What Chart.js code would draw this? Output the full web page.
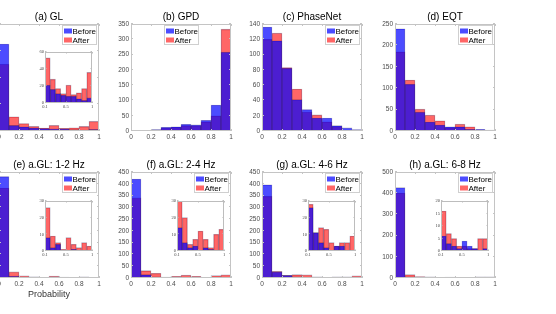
<!DOCTYPE html>
<html>
<head>
<meta charset="utf-8">
<script src="https://cdn.jsdelivr.net/npm/chart.js@4.4.1/dist/chart.umd.min.js"></script>
<style>
  html, body { margin: 0; padding: 0; background: #fff; }
  body { width: 556px; height: 314px; position: relative; overflow: hidden; }
  canvas { position: absolute; }
</style>
</head>
<body>
<script>
'use strict';

// histogram bins are 0.1 wide, bars sit on the bin centres
const binCenters = [0.05, 0.15, 0.25, 0.35, 0.45, 0.55, 0.65, 0.75, 0.85, 0.95];
const seriesLabels = ['Before', 'After'];
const xTicks = [0, 0.2, 0.4, 0.6, 0.8, 1];
const insetXTicks = [0.1, 0.5, 1];

const glBefore = [325, 21, 16, 11, 9, 8, 8, 5, 3, 6];
const glAfter = [250, 53, 28, 17, 11, 21, 10, 12, 17, 36];
const gpdBefore = [0, 2, 5, 12, 14, 22, 20, 35, 85, 258];
const gpdAfter = [0, 1, 4, 10, 12, 18, 18, 30, 50, 333];
const pnBefore = [136, 118, 82, 41, 28, 17, 17, 7, 4, 2];
const pnAfter = [120, 128, 83, 55, 25, 21, 12, 6, 1, 0];
const eqtBefore = [239, 109, 44, 21, 14, 10, 10, 4, 4, 0];
const eqtAfter = [185, 119, 51, 37, 24, 8, 16, 10, 2, 2];
const agl12Before = [431, 8, 2, 4, 0, 0, 1, 0, 0, 0];
const agl12After = [382, 26, 9, 5, 1, 8, 4, 2, 5, 3];
const agl24Before = [420, 14, 5, 2, 3, 0, 2, 1, 0, 0];
const agl24After = [340, 31, 20, 4, 7, 12, 7, 2, 10, 13];
const agl46Before = [396, 26, 11, 5, 2, 0, 3, 3, 0, 0];
const agl46After = [347, 28, 11, 14, 13, 5, 3, 5, 5, 9];
const agl68Before = [426, 6, 3, 2, 1, 4, 2, 1, 0, 1];
const agl68After = [401, 16, 7, 5, 2, 2, 1, 1, 5, 5];

const panels = [
    { title: '(a) GL', before: glBefore, after: glAfter, yMax: 400, yStep: 100, inset: { yMax: 60, yStep: 20 } },
    { title: '(b) GPD', before: gpdBefore, after: gpdAfter, yMax: 350, yStep: 50, legendTop: true },
    { title: '(c) PhaseNet', before: pnBefore, after: pnAfter, yMax: 140, yStep: 20 },
    { title: '(d) EQT', before: eqtBefore, after: eqtAfter, yMax: 250, yStep: 50 },
    { title: '(e) a.GL: 1-2 Hz', before: agl12Before, after: agl12After, yMax: 450, yStep: 50, inset: { yMax: 30, yStep: 10 }, xLabel: 'Probability' },
    { title: '(f) a.GL: 2-4 Hz', before: agl24Before, after: agl24After, yMax: 450, yStep: 50, inset: { yMax: 30, yStep: 10 } },
    { title: '(g) a.GL: 4-6 Hz', before: agl46Before, after: agl46After, yMax: 450, yStep: 50, inset: { yMax: 30, yStep: 10 } },
    { title: '(h) a.GL: 6-8 Hz', before: agl68Before, after: agl68After, yMax: 500, yStep: 100, inset: { yMax: 20, yStep: 5 } },
];

const colLeft = [-1, 131, 262, 395];
const rowTop = [24, 172];
const rowH = [107, 106];
const insetTop = [52, 201];
const insetH = [51, 50];

const beforeColor = 'rgba(0, 0, 255, 0.7)';
const afterColor = 'rgba(255, 0, 0, 0.6)';
const sans = "'Liberation Sans', Arial, sans-serif";

Chart.defaults.font.family = sans;

// MATLAB style box round the plot area, with small ticks pointing inwards
const framePlugin = {
    id: 'frame',
    beforeDatasetsDraw(chart, args, opts) {
        const { ctx, chartArea: a } = chart;
        ctx.save();
        ctx.fillStyle = '#fff';
        ctx.fillRect(a.left, a.top, a.width, a.height);
        ctx.restore();
    },
    afterDatasetsDraw(chart, args, opts) {
        const { ctx, chartArea: a, scales } = chart;
        const len = opts.tick;
        ctx.save();
        ctx.strokeStyle = opts.color;
        ctx.lineWidth = 1;
        ctx.strokeRect(a.left + 0.5, a.top + 0.5, a.width - 1, a.height - 1);
        ctx.beginPath();
        scales.x.ticks.forEach((t) => {
            const px = Math.round(scales.x.getPixelForValue(t.value)) + 0.5;
            ctx.moveTo(px, a.bottom);
            ctx.lineTo(px, a.bottom - len);
            ctx.moveTo(px, a.top);
            ctx.lineTo(px, a.top + len);
        });
        scales.y.ticks.forEach((t) => {
            const py = Math.round(scales.y.getPixelForValue(t.value)) - 0.5;
            ctx.moveTo(a.left, py);
            ctx.lineTo(a.left + len, py);
            ctx.moveTo(a.right, py);
            ctx.lineTo(a.right - len, py);
        });
        ctx.stroke();
        ctx.restore();
    },
};

// legend in a small white box inside the axes
const boxLegend = {
    id: 'boxLegend',
    afterDraw(chart, args, opts) {
        if (!opts.show) return;
        const { ctx, chartArea: a } = chart;
        const w = 35, h = 20;
        const x = opts.centre ? Math.round((a.left + a.right - w) / 2) : a.right - w - 2;
        const y = a.top + 1;
        ctx.save();
        ctx.fillStyle = '#fff';
        ctx.fillRect(x, y, w, h);
        ctx.strokeStyle = '#cfcfcf';
        ctx.lineWidth = 1;
        ctx.strokeRect(x + 0.5, y + 0.5, w - 1, h - 1);
        ctx.font = '8px ' + sans;
        ctx.textBaseline = 'middle';
        chart.data.datasets.forEach((ds, k) => {
            const cy = y + 6 + k * 9;
            ctx.fillStyle = ds.backgroundColor;
            ctx.fillRect(x + 2, cy - 2.5, 8, 5);
            ctx.fillStyle = '#000';
            ctx.fillText(ds.label, x + 10.5, cy + 0.5);
        });
        ctx.restore();
    },
};

function points(centers, values) {
    return values
        .map((v, k) => ({ x: centers[k], y: v }))
        .filter((p) => p.y > 0);
}

function barSets(centers, before, after) {
    const common = {
        grouped: false,
        barPercentage: 1,
        categoryPercentage: 1,
        borderWidth: 0.6,
        borderColor: 'rgba(20, 0, 60, 0.35)',
    };
    return [
        { ...common, label: seriesLabels[0], data: points(centers, before), backgroundColor: beforeColor },
        { ...common, label: seriesLabels[1], data: points(centers, after), backgroundColor: afterColor },
    ];
}

function addCanvas(left, top, width, height) {
    const c = document.createElement('canvas');
    c.width = width;
    c.height = height;
    c.style.left = left + 'px';
    c.style.top = top + 'px';
    c.style.width = width + 'px';
    c.style.height = height + 'px';
    document.body.appendChild(c);
    return c;
}

function makeMain(p, i) {
    const col = i % 4, row = Math.floor(i / 4);
    const yw = 26, titleH = 17, padR = 6;
    const xh = p.xLabel ? 22 : 14;
    const canvas = addCanvas(colLeft[col] - yw, rowTop[row] - titleH, yw + 100 + padR, titleH + rowH[row] + xh);

    new Chart(canvas, {
        type: 'bar',
        data: { datasets: barSets(binCenters, p.before, p.after) },
        options: {
            responsive: false,
            animation: false,
            devicePixelRatio: 1,
            events: [],
            layout: { padding: { left: 0, right: padR, top: 0, bottom: 0 } },
            plugins: {
                legend: { display: false },
                tooltip: { enabled: false },
                title: {
                    display: true,
                    text: p.title,
                    fullSize: false,
                    color: '#000',
                    font: { size: 10, weight: 'normal' },
                    padding: { top: 4, bottom: 1 },
                },
                frame: { color: '#c4c4c4', tick: 2 },
                boxLegend: { show: true, centre: !!p.legendTop },
            },
            scales: {
                x: {
                    type: 'linear',
                    min: 0,
                    max: 1,
                    offset: false,
                    afterBuildTicks: (s) => { s.ticks = xTicks.map((v) => ({ value: v })); },
                    afterFit: (s) => { s.height = xh; },
                    grid: { display: false, drawTicks: false },
                    border: { display: false },
                    ticks: {
                        font: { size: 6.5 },
                        color: '#4a4a4a',
                        padding: 2,
                        maxRotation: 0,
                        autoSkip: false,
                        callback: (v) => String(v),
                    },
                    title: {
                        display: !!p.xLabel,
                        text: p.xLabel || '',
                        color: '#333',
                        font: { size: 9 },
                        padding: { top: 0, bottom: 0 },
                    },
                },
                y: {
                    min: 0,
                    max: p.yMax,
                    afterFit: (s) => { s.width = yw; },
                    grid: { display: false, drawTicks: false },
                    border: { display: false },
                    ticks: {
                        stepSize: p.yStep,
                        font: { size: 6.5 },
                        color: '#4a4a4a',
                        padding: 2,
                        callback: (v) => String(v),
                    },
                },
            },
        },
        plugins: [framePlugin, boxLegend],
    });
}

function makeInset(p, i) {
    if (!p.inset) return;
    const col = i % 4, row = Math.floor(i / 4);
    const yw = 10, xh = 8, pad = 4, w = 47;
    const canvas = addCanvas(colLeft[col] + 46 - yw, insetTop[row] - pad, yw + w + pad, pad + insetH[row] + xh);

    new Chart(canvas, {
        type: 'bar',
        data: { datasets: barSets(binCenters.slice(1), p.before.slice(1), p.after.slice(1)) },
        options: {
            responsive: false,
            animation: false,
            devicePixelRatio: 1,
            events: [],
            layout: { padding: { left: 0, right: pad, top: pad, bottom: 0 } },
            plugins: {
                legend: { display: false },
                tooltip: { enabled: false },
                frame: { color: '#bdbdbd', tick: 1.5 },
                boxLegend: { show: false },
            },
            scales: {
                x: {
                    type: 'linear',
                    min: 0.1,
                    max: 1,
                    offset: false,
                    afterBuildTicks: (s) => { s.ticks = insetXTicks.map((v) => ({ value: v })); },
                    afterFit: (s) => { s.height = xh; },
                    grid: { display: false, drawTicks: false },
                    border: { display: false },
                    ticks: {
                        font: { size: 4.5, family: "'Liberation Serif', serif" },
                        color: '#444',
                        padding: 1,
                        maxRotation: 0,
                        autoSkip: false,
                        callback: (v) => String(v),
                    },
                },
                y: {
                    min: 0,
                    max: p.inset.yMax,
                    afterFit: (s) => { s.width = yw; },
                    grid: { display: false, drawTicks: false },
                    border: { display: false },
                    ticks: {
                        stepSize: p.inset.yStep,
                        font: { size: 4.5, family: "'Liberation Serif', serif" },
                        color: '#444',
                        padding: 1,
                        callback: (v) => String(v),
                    },
                },
            },
        },
        plugins: [framePlugin],
    });
}

panels.forEach(makeMain);
panels.forEach(makeInset);
</script>
</body>
</html>
